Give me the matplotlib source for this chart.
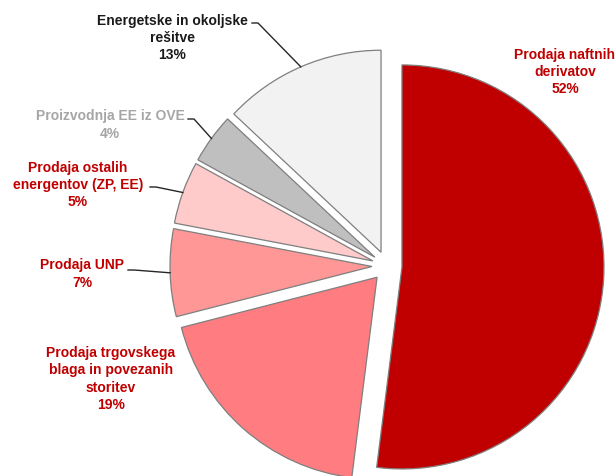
import numpy as np
import matplotlib
matplotlib.use("Agg")
import matplotlib.pyplot as plt

labels = ["Prodaja naftnih\nderivatov", "Prodaja trgovskega\nblaga in povezanih\nstoritev",
          "Prodaja UNP", "Prodaja ostalih\nenergentov (ZP, EE)", "Proizvodnja EE iz OVE",
          "Energetske in okoljske\nrešitve"]
shares = [52, 19, 7, 5, 4, 13]
colors = ["#C00000", "#FF7C80", "#FF9797", "#FFCACA", "#BFBFBF", "#F2F2F2"]
text_colors = ["#C00000", "#C00000", "#C00000", "#C00000", "#A6A6A6", "#1A1A1A"]

W, H = 616, 477
fig = plt.figure(figsize=(W / 100, H / 100), dpi=100)
ax = fig.add_axes([0, 0, 1, 1])

R = 202
# matplotlib's explode is an absolute offset in data units (here pixels)
wedges, _ = ax.pie(shares, colors=colors, startangle=90, counterclock=False, radius=R,
                   center=(387, H - 267), explode=[15] * len(shares),
                   wedgeprops=dict(edgecolor="#7F7F7F", linewidth=0.9))
ax.set_xlim(0, W); ax.set_ylim(0, H); ax.set_aspect("equal"); ax.axis("off")

# label centre (x, y from top) and leader start (None = no leader)
lab_pos = [(565, 72), (111, 379), (82, 274), (78, 185), (110, 125), (172, 38)]
lead = [None, None, (128, 271), (150, 188), (188, 120), (252, 24)]
txt_kw = dict(ha="center", va="center", fontsize=10, fontweight="bold",
              family=["Liberation Sans", "DejaVu Sans"], linespacing=1.3)

for w, lab, s, pos, ld, tc in zip(wedges, labels, shares, lab_pos, lead, text_colors):
    ax.text(pos[0], H - pos[1], f"{lab}\n{s}%", color=tc, **txt_kw)
    if ld is not None:
        mid = np.deg2rad((w.theta1 + w.theta2) / 2)
        tx = w.center[0] + w.r * np.cos(mid)
        ty = w.center[1] + w.r * np.sin(mid)
        ax.plot([ld[0], ld[0] + 6, tx], [H - ld[1], H - ld[1], ty], color="#262626", lw=1.0)

fig.savefig("out.png", dpi=100)
